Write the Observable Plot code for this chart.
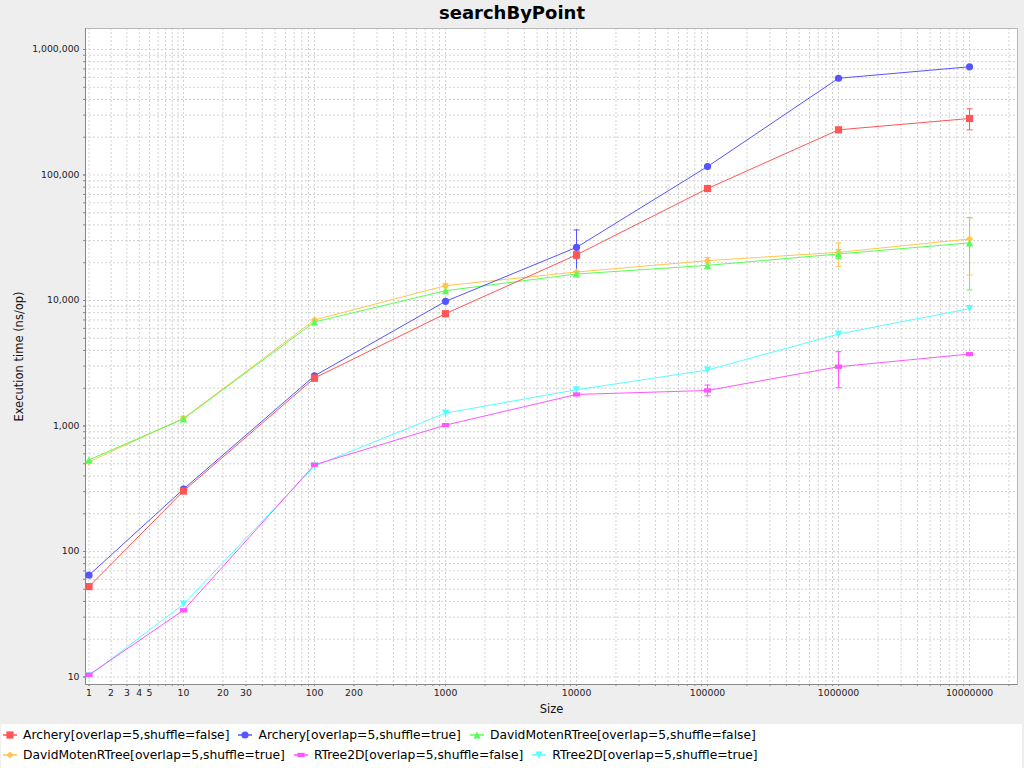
<!DOCTYPE html>
<html><head><meta charset="utf-8">
<script src="https://cdn.jsdelivr.net/npm/d3@7"></script>
<script src="https://cdn.jsdelivr.net/npm/@observablehq/plot@0.6"></script>
<style>
body{margin:0;background:#eeeeee;font-family:"DejaVu Sans",sans-serif;width:1024px;height:768px;overflow:hidden;position:relative}
#title{height:26px;line-height:26px;text-align:center;font-weight:bold;font-size:18px;color:#000}
#chart svg{display:block}
#legend{position:absolute;left:1px;top:724px;width:1021px;height:44px;background:#fff;box-sizing:border-box;padding-top:1px}
.row{height:20px;display:flex;align-items:center;padding-left:2px}
.item{display:inline-flex;align-items:center;margin-right:9px;font-size:12.3px;color:#000;white-space:nowrap}
.item svg{margin-right:6px}
</style></head>
<body>
<div id="title">searchByPoint</div>
<div id="chart"></div>
<div id="legend"></div>
<script>
const sizes = [1, 10, 100, 1000, 10000, 100000, 1000000, 10000000];
const seriesNames = ["Archery[overlap=5,shuffle=false]", "Archery[overlap=5,shuffle=true]", "DavidMotenRTree[overlap=5,shuffle=false]", "DavidMotenRTree[overlap=5,shuffle=true]", "RTree2D[overlap=5,shuffle=false]", "RTree2D[overlap=5,shuffle=true]"];
const seriesColors = ["#ff5555", "#5555ff", "#55ff55", "#ffc64d", "#ff55ff", "#55ffff"];
const archeryFalse = [52.5, 303, 2410, 7850, 23100, 78000, 229000, 282000];
const archeryTrue = [64.7, 314, 2510, 9840, 26500, 116700, 590000, 728000];
const davidFalse = [537, 1141, 6740, 11970, 16260, 19050, 23490, 28760];
const davidTrue = [518, 1150, 6995, 13120, 16870, 20770, 24190, 30920];
const rtreeFalse = [10.4, 34.0, 491, 1016, 1783, 1919, 2966, 3744];
const rtreeTrue = [10.2, 38.0, 479, 1267, 1944, 2792, 5407, 8604];
// error bars [low, high] per size (null = no visible bar)
const archeryFalseErr = [null, null, [2280, 2560], null, [21500, 24800], null, null, [229000, 336600]];
const archeryTrueErr = [null, null, null, null, [17000, 36500], null, null, null];
const davidFalseErr = [null, [1090, 1195], null, null, null, null, [21500, 25500], [12130, 45700]];
const davidTrueErr = [null, null, null, [12600, 13700], null, [19600, 22000], [18600, 28700], [15960, 45700]];
const rtreeFalseErr = [null, null, null, null, null, [1741, 2119], [2018, 3908], null];
const rtreeTrueErr = [null, null, null, null, null, null, null, null];
const xTickLabels = [1, 2, 3, 4, 5, 10, 20, 30, 100, 200, 1000, 10000, 100000, 1000000, 10000000];
const yTickLabels = [10, 100, 1000, 10000, 100000, 1000000];

const seriesValues = [archeryFalse, archeryTrue, davidFalse, davidTrue, rtreeFalse, rtreeTrue];
const seriesErrors = [archeryFalseErr, archeryTrueErr, davidFalseErr, davidTrueErr, rtreeFalseErr, rtreeTrueErr];

// JFreeChart-style adjusted log10 for the size axis
const adj = v => Math.log10(v < 10 ? v + (10 - v) / 10 : v);
const xDomain = [0.252, 7.366];
const yDomain = [8.71, 1.47e6];

const sym = f => ({draw(ctx, size) { const r = Math.sqrt(size / Math.PI); f(ctx, r); }});
const symbols = [
  sym((c, r) => { c.rect(-r, -r, 2 * r, 2 * r); }),
  sym((c, r) => { c.moveTo(r, 0); c.arc(0, 0, r, 0, 2 * Math.PI); }),
  sym((c, r) => { c.moveTo(0, -r); c.lineTo(r, r); c.lineTo(-r, r); c.closePath(); }),
  sym((c, r) => { c.moveTo(0, -r); c.lineTo(r, 0); c.lineTo(0, r); c.lineTo(-r, 0); c.closePath(); }),
  sym((c, r) => { c.rect(-r, -r * 0.6, 2 * r, r * 1.2); }),
  sym((c, r) => { c.moveTo(-r, -r); c.lineTo(r, -r); c.lineTo(0, r); c.closePath(); })
];
const cap = sym((c, r) => { c.moveTo(-r, 0); c.lineTo(r, 0); });

const data = [], errs = [];
for (let s = seriesNames.length - 1; s >= 0; s--) {
  seriesValues[s].forEach((v, i) => data.push({series: seriesNames[s], x: adj(sizes[i]), value: v}));
  seriesErrors[s].forEach((e, i) => { if (e) errs.push({series: seriesNames[s], x: adj(sizes[i]), lo: e[0], hi: e[1]}); });
}

const xAll = [];
for (let n = 0; n <= 7; n++) for (let k = 1; k <= 9; k++) { const v = k * 10 ** n; if (adj(v) <= xDomain[1]) xAll.push(v); }
const yAll = [];
for (let n = 1; n <= 6; n++) for (let k = 1; k <= 9; k++) { const v = k * 10 ** n; if (v <= yDomain[1]) yAll.push(v); }
const xLabelMap = new Map(xTickLabels.map(v => [adj(v), String(v)]));
const fmt = d3.format(",");
const gridStyle = {stroke: "#d2d2d2", strokeOpacity: 1, strokeWidth: 1, strokeDasharray: "2,2"};

const chart = Plot.plot({
  width: 1024, height: 698,
  marginLeft: 85, marginRight: 7, marginTop: 2, marginBottom: 40,
  style: {background: "transparent", fontFamily: "DejaVu Sans", fontSize: "9.3px", color: "#222"},
  x: {type: "linear", domain: xDomain},
  y: {type: "log", domain: yDomain},
  color: {domain: seriesNames, range: seriesColors},
  symbol: {domain: seriesNames, range: symbols},
  marks: [
    Plot.frame({fill: "white", stroke: "none"}),
    Plot.gridX(xAll.map(adj), gridStyle),
    Plot.gridY(yAll, gridStyle),
    Plot.frame({stroke: "#b8b8b8"}),
    Plot.ruleX([xDomain[0]], {stroke: "#888"}),
    Plot.ruleY([yDomain[0]], {stroke: "#888"}),
    Plot.axisX(xAll.map(adj), {tickSize: 2, stroke: "#888", tickFormat: () => "", label: null}),
    Plot.axisX(xTickLabels.map(adj), {tickSize: 2, tickPadding: 3, stroke: "#888", fill: "#222", tickFormat: d => xLabelMap.get(d), label: null}),
    Plot.axisY(yAll, {tickSize: 2, stroke: "#888", tickFormat: () => "", label: null}),
    Plot.axisY(yTickLabels, {tickSize: 2, tickPadding: 4, stroke: "#888", fill: "#222", tickFormat: fmt, label: null}),
    Plot.text(["Size"], {frameAnchor: "bottom", dy: 25, lineAnchor: "middle", textAnchor: "middle", fontSize: 11.5, fill: "#111"}),
    Plot.text(["Execution time (ns/op)"], {frameAnchor: "left", dx: -66, rotate: -90, textAnchor: "middle", lineAnchor: "middle", fontSize: 11.5, fill: "#111"}),
    Plot.line(data, {x: "x", y: "value", z: "series", stroke: "series", strokeWidth: 1}),
    Plot.ruleX(errs, {x: "x", y1: "lo", y2: "hi", stroke: "series", strokeWidth: 1}),
    Plot.dot(errs, {x: "x", y: "lo", symbol: () => cap, r: 3, stroke: "series", fill: "none", strokeWidth: 1}),
    Plot.dot(errs, {x: "x", y: "hi", symbol: () => cap, r: 3, stroke: "series", fill: "none", strokeWidth: 1}),
    Plot.dot(data, {x: "x", y: "value", symbol: "series", fill: "series", stroke: "none", r: 3.6})
  ]
});
document.getElementById("chart").appendChild(chart);

// legend
const legend = document.getElementById("legend");
[[0, 1, 2], [3, 4, 5]].forEach(idx => {
  const row = document.createElement("div");
  row.className = "row";
  idx.forEach(i => {
    const item = document.createElement("span");
    item.className = "item";
    const p = d3.path();
    symbols[i].draw(p, Math.PI * 3.6 * 3.6);
    item.innerHTML = `<svg width="14" height="12" viewBox="-7 -6 14 12"><line x1="-7" x2="7" y1="0" y2="0" stroke="${seriesColors[i]}" stroke-width="1.5"/><path d="${p.toString()}" fill="${seriesColors[i]}"/></svg><span>${seriesNames[i]}</span>`;
    row.appendChild(item);
  });
  legend.appendChild(row);
});
</script>
</body></html>
